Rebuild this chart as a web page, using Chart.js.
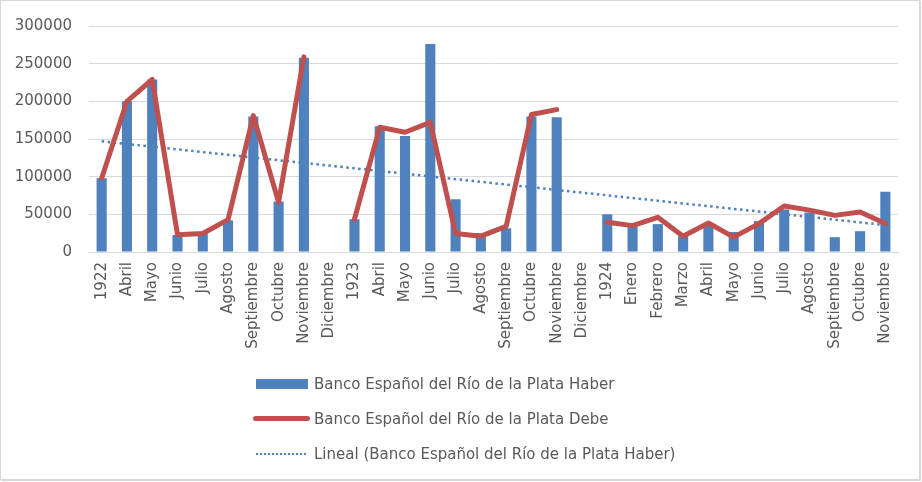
<!DOCTYPE html>
<html>
<head>
<meta charset="utf-8">
<script src="https://cdn.jsdelivr.net/npm/chart.js@4"></script>
<style>
    body { margin: 0; background: #fff; }
    #wrap { position: relative; width: 922px; height: 482px; }
    #frame { position: absolute; left: 0; top: 0; width: 918px; height: 478px; border: 1px solid #d9d9d9; box-shadow: 1px 1px 0 #d9d9d9; }
    #myChart { position: absolute; left: 0; top: 0; }
    #legend { position: absolute; left: 250px; top: 366px; font-family: "DejaVu Sans"; font-size: 15px; color: #595959; }
    #legend .row { height: 35px; display: flex; align-items: center; }
    #legend .sym { width: 60px; height: 12px; position: relative; margin-right: 4px; }
    #legend .bar { position: absolute; left: 6px; top: 1px; width: 52px; height: 10px; background: #4f81bd; }
    #legend .line { position: absolute; left: 3px; top: 3px; width: 57px; height: 5px; border-radius: 3px; background: #c0504d; }
    #legend .dots { position: absolute; left: 6px; top: 5px; width: 50px; height: 0; border-top: 2.5px dotted #4f81bd; }
</style>
</head>
<body>
<div id="wrap">
    <div id="frame"></div>
    <canvas id="myChart" width="922" height="482"></canvas>
    <div id="legend"></div>
</div>
<script>
// 카테고리 (월)
var labels = ["1922", "Abril", "Mayo", "Junio", "Julio", "Agosto", "Septiembre", "Octubre", "Noviembre", "Diciembre",
    "1923", "Abril", "Mayo", "Junio", "Julio", "Agosto", "Septiembre", "Octubre", "Noviembre", "Diciembre",
    "1924", "Enero", "Febrero", "Marzo", "Abril", "Mayo", "Junio", "Julio", "Agosto", "Septiembre", "Octubre", "Noviembre"];

// Haber (막대)
var haber = [98000, 200000, 229000, 22500, 24500, 42000, 180000, 67000, 258000, null,
    43500, 167000, 154000, 276000, 70000, 25000, 31500, 180000, 179000, null,
    50000, 35500, 37000, 21000, 35500, 26500, 41000, 56500, 52500, 19700, 27600, 80000];

// Debe (선)
var debe = [98000, 200000, 229000, 23000, 24500, 43000, 181000, 66000, 259000, null,
    43500, 165500, 159000, 172000, 24500, 21000, 34000, 182500, 189000, null,
    39500, 35000, 46000, 21000, 38500, 19700, 37700, 61000, 55600, 48600, 53000, 37700];

// y축 눈금
var yTicks = [0, 50000, 100000, 150000, 200000, 250000, 300000];

var seriesNames = ["Banco Español del Río de la Plata Haber", "Banco Español del Río de la Plata Debe",
    "Lineal (Banco Español del Río de la Plata Haber)"];

// 선형 추세선 (Haber 최소제곱)
var n = 0, sx = 0, sy = 0, sxx = 0, sxy = 0;
haber.forEach(function (v, i) {
    if (v === null) return;
    n++; sx += i; sy += v; sxx += i * i; sxy += i * v;
});
var slope = (n * sxy - sx * sy) / (n * sxx - sx * sx);
var inter = (sy - slope * sx) / n;
var trend = labels.map(function (l, i) { return inter + slope * i; });

var grey = "#595959";
Chart.defaults.font.family = "DejaVu Sans";
Chart.defaults.font.size = 15;
Chart.defaults.color = grey;

new Chart(document.getElementById("myChart").getContext('2d'), {
    type: "bar",
    data: {
        labels: labels,
        datasets: [{
            label: seriesNames[0],
            data: haber,
            backgroundColor: "#4f81bd",
            categoryPercentage: 0.8,
            barPercentage: 0.5,
            order: 2
        }, {
            type: "line",
            label: seriesNames[1],
            data: debe,
            borderColor: "#c0504d",
            borderWidth: 5,
            borderCapStyle: "round",
            borderJoinStyle: "round",
            pointRadius: 0,
            tension: 0,
            spanGaps: false,
            order: 0
        }, {
            type: "line",
            label: seriesNames[2],
            data: trend,
            borderColor: "#4f81bd",
            borderWidth: 2.5,
            borderDash: [2.5, 3.5],
            pointRadius: 0,
            order: 1
        }]
    },
    options: {
        responsive: false, //크기 고정
        animation: false,
        layout: { padding: { left: 0, top: 24, right: 24, bottom: 0 } },
        plugins: { legend: { display: false }, tooltip: { enabled: false } },
        scales: {
            x: {
                grid: { display: false, drawTicks: false },
                border: { color: "#d9d9d9" },
                ticks: { minRotation: 90, maxRotation: 90, autoSkip: false, padding: 10 },
                afterFit: function (s) { s.height = 230; }
            },
            y: {
                min: 0,
                max: 300000,
                grid: { color: "#d9d9d9", drawTicks: false },
                border: { display: false },
                afterBuildTicks: function (s) { s.ticks = yTicks.map(function (v) { return { value: v }; }); },
                ticks: { padding: 17, callback: function (v) { return String(v); } },
                afterFit: function (s) { s.width = 89; }
            }
        }
    }
});

// 범례 (세로 목록)
var syms = ['<span class="bar"></span>', '<span class="line"></span>', '<span class="dots"></span>'];
document.getElementById("legend").innerHTML = seriesNames.map(function (t, i) {
    return '<div class="row"><span class="sym">' + syms[i] + '</span><span>' + t + '</span></div>';
}).join("");
</script>
</body>
</html>
